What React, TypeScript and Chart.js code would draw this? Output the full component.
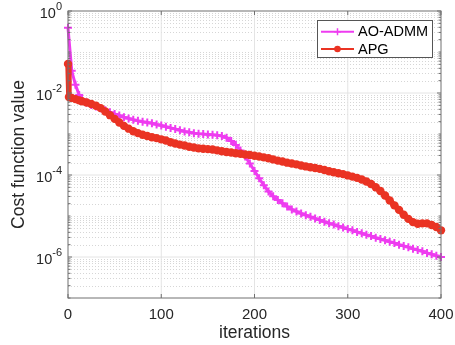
import React, { useEffect, useRef } from "react";
import { Chart, registerables } from "chart.js";

Chart.register(...registerables);

// ---- data ----
const iterations = [
  0, 1, 4, 8, 12, 15, 20, 25, 30, 35, 40, 45, 50, 55, 60, 65, 70, 75, 80, 85, 90, 95,
  100, 105, 110, 115, 120, 125, 130, 135, 140, 145, 150, 155, 160, 165, 170, 175, 180,
  185, 190, 195, 200, 205, 210, 215, 220, 225, 230, 235, 240, 245, 250, 255, 260, 265,
  270, 275, 280, 285, 290, 295, 300, 305, 310, 315, 320, 325, 330, 335, 340, 345, 350,
  355, 360, 365, 370, 375, 380, 385, 390, 395, 400,
];

const aoAdmm = [
  3.89e-1, null, 3.47e-2, 1.58e-2, 8.91e-3,
  7.08e-3, 5.89e-3, 5.13e-3, 4.68e-3, 4.27e-3, 3.8e-3, 3.39e-3, 3.09e-3, 2.82e-3, 2.57e-3,
  2.4e-3, 2.24e-3, 2.09e-3, 2.0e-3, 1.91e-3, 1.82e-3, 1.7e-3, 1.62e-3, 1.51e-3, 1.41e-3,
  1.32e-3, 1.23e-3, 1.15e-3, 1.1e-3, 1.05e-3, 1.02e-3, 1.0e-3, 9.77e-4, 9.55e-4, 9.33e-4,
  8.91e-4, 8.13e-4, 6.76e-4, 5.37e-4, 3.98e-4, 2.82e-4, 1.91e-4, 1.26e-4, 8.32e-5, 5.62e-5,
  3.98e-5, 3.02e-5, 2.45e-5, 2.04e-5, 1.7e-5, 1.45e-5, 1.29e-5, 1.15e-5, 1.05e-5, 9.55e-6,
  8.71e-6, 7.94e-6, 7.24e-6, 6.61e-6, 6.17e-6, 5.62e-6, 5.25e-6, 4.79e-6, 4.47e-6, 4.07e-6,
  3.8e-6, 3.47e-6, 3.24e-6, 2.95e-6, 2.75e-6, 2.57e-6, 2.34e-6, 2.19e-6, 2.0e-6, 1.86e-6,
  1.74e-6, 1.58e-6, 1.48e-6, 1.38e-6, 1.26e-6, 1.17e-6, 1.07e-6, 1.0e-6,
];

const apg = [
  5.13e-2, 7.94e-3, 7.59e-3, 7.08e-3, 6.61e-3,
  6.31e-3, 5.89e-3, 5.37e-3, 4.9e-3, 4.27e-3, 3.55e-3, 2.88e-3, 2.34e-3, 1.91e-3, 1.58e-3,
  1.35e-3, 1.17e-3, 1.05e-3, 9.55e-4, 8.91e-4, 8.32e-4, 7.94e-4, 7.41e-4, 6.92e-4, 6.31e-4,
  5.89e-4, 5.5e-4, 5.25e-4, 4.9e-4, 4.68e-4, 4.47e-4, 4.37e-4, 4.27e-4, 4.17e-4, 3.98e-4,
  3.8e-4, 3.63e-4, 3.55e-4, 3.39e-4, 3.31e-4, 3.16e-4, 3.09e-4, 2.95e-4, 2.82e-4, 2.69e-4,
  2.57e-4, 2.4e-4, 2.24e-4, 2.14e-4, 2.0e-4, 1.91e-4, 1.82e-4, 1.7e-4, 1.62e-4, 1.55e-4,
  1.48e-4, 1.41e-4, 1.32e-4, 1.23e-4, 1.17e-4, 1.1e-4, 1.05e-4, 9.77e-5, 9.12e-5, 8.51e-5,
  7.76e-5, 6.92e-5, 6.03e-5, 5.01e-5, 4.07e-5, 3.16e-5, 2.4e-5, 1.82e-5, 1.41e-5, 1.07e-5,
  8.51e-6, 7.08e-6, 6.46e-6, 6.61e-6, 6.61e-6, 6.03e-6, 5.37e-6, 4.47e-6,
];

const seriesNames = ["AO-ADMM", "APG"];
const xTicks = [0, 100, 200, 300, 400];
const yTickExponents = [0, -2, -4, -6];
const xTitle = "iterations";
const yTitle = "Cost function value";

// ---- styling ----
const FONT = '"Liberation Sans", Arial, Helvetica, sans-serif';
const AXIS = "#262626";
const MAGENTA = "#ee3cf0";
const RED = "#ea3323";

function drawMarker(ctx: CanvasRenderingContext2D, style: string, x: number, y: number, r: number, color: string, lw: number) {
  ctx.save();
  if (style === "cross") {
    ctx.strokeStyle = color;
    ctx.lineWidth = lw;
    ctx.beginPath();
    ctx.moveTo(x - r, y);
    ctx.lineTo(x + r, y);
    ctx.moveTo(x, y - r);
    ctx.lineTo(x, y + r);
    ctx.stroke();
  } else {
    ctx.fillStyle = color;
    ctx.beginPath();
    ctx.arc(x, y, r, 0, Math.PI * 2);
    ctx.fill();
  }
  ctx.restore();
}

const decorPlugin = {
  id: "decor",
  beforeDatasetsDraw(chart: any) {
    const { ctx, chartArea, scales } = chart;
    const { left, right, top, bottom } = chartArea;
    const x = scales.x;
    const y = scales.y;
    ctx.save();
    // minor dotted horizontal grid
    ctx.lineWidth = 1;
    ctx.strokeStyle = "#d6d6d6";
    ctx.setLineDash([1, 2]);
    for (let e = -7; e < 0; e++) {
      for (let m = 1; m <= 9; m++) {
        if (m === 1 && yTickExponents.includes(e)) continue;
        const v = m * Math.pow(10, e);
        const py = Math.round(y.getPixelForValue(v)) + 0.5;
        if (py <= top + 1 || py >= bottom - 1) continue;
        ctx.beginPath();
        ctx.moveTo(left, py);
        ctx.lineTo(right, py);
        ctx.stroke();
      }
    }
    ctx.setLineDash([]);
    ctx.strokeStyle = "#e4e4e4";
    for (const e of yTickExponents) {
      const py = y.getPixelForValue(Math.pow(10, e));
      if (py <= top + 1 || py >= bottom - 1) continue;
      ctx.beginPath();
      ctx.moveTo(left, py);
      ctx.lineTo(right, py);
      ctx.stroke();
    }
    for (const v of xTicks) {
      const px = x.getPixelForValue(v);
      if (px <= left + 1 || px >= right - 1) continue;
      ctx.beginPath();
      ctx.moveTo(px, top);
      ctx.lineTo(px, bottom);
      ctx.stroke();
    }
    ctx.restore();
  },
  afterDatasetsDraw(chart: any) {
    const { ctx, chartArea, scales } = chart;
    const { left, right, top, bottom } = chartArea;
    const x = scales.x;
    const y = scales.y;
    ctx.save();
    // box
    ctx.strokeStyle = "#707070";
    ctx.lineWidth = 1;
    ctx.strokeRect(left, top, right - left, bottom - top);
    // x ticks (inward, top and bottom)
    ctx.beginPath();
    for (const v of xTicks) {
      const px = x.getPixelForValue(v);
      ctx.moveTo(px, bottom);
      ctx.lineTo(px, bottom - 4);
      ctx.moveTo(px, top);
      ctx.lineTo(px, top + 4);
    }
    // y ticks (inward, left and right)
    for (let e = -7; e <= 0; e++) {
      for (let m = 1; m <= 9; m++) {
        const v = m * Math.pow(10, e);
        if (v > 1.0000001) continue;
        const py = y.getPixelForValue(v);
        const len = m === 1 && yTickExponents.includes(e) ? 4 : 2.5;
        ctx.moveTo(left, py);
        ctx.lineTo(left + len, py);
        ctx.moveTo(right, py);
        ctx.lineTo(right - len, py);
      }
    }
    ctx.stroke();
    // x tick labels
    ctx.fillStyle = AXIS;
    ctx.textAlign = "center";
    ctx.textBaseline = "middle";
    ctx.font = `15px ${FONT}`;
    for (const v of xTicks) {
      ctx.fillText(String(v), x.getPixelForValue(v), 315);
    }
    // y tick labels: 10^e
    ctx.textAlign = "right";
    ctx.textBaseline = "middle";
    for (const e of yTickExponents) {
      const py = y.getPixelForValue(Math.pow(10, e));
      const expStr = e === 0 ? "0" : "-" + Math.abs(e);
      ctx.font = `11px ${FONT}`;
      const ew = ctx.measureText(expStr).width;
      ctx.fillText(expStr, left - 6, py - 4);
      ctx.font = `14.5px ${FONT}`;
      ctx.fillText("10", left - 6 - ew, py + 3);
    }
    // legend
    const bx = 317, by = 20, bw = 115, bh = 37;
    ctx.fillStyle = "#ffffff";
    ctx.fillRect(bx, by, bw, bh);
    ctx.strokeStyle = "#555555";
    ctx.lineWidth = 1;
    ctx.strokeRect(bx + 0.5, by + 0.5, bw, bh);
    const rows = [31.7, 49];
    chart.data.datasets.forEach((ds: any, i: number) => {
      const ry = rows[i];
      ctx.strokeStyle = ds.borderColor;
      ctx.lineWidth = 2;
      ctx.beginPath();
      ctx.moveTo(321, ry);
      ctx.lineTo(354, ry);
      ctx.stroke();
      drawMarker(ctx, ds.pointStyle, 337.5, ry, ds.pointStyle === "cross" ? 3.5 : 3.3, ds.borderColor, 1.5);
      ctx.fillStyle = "#000000";
      ctx.textAlign = "left";
      ctx.textBaseline = "middle";
      ctx.font = `14.5px ${FONT}`;
      ctx.fillText(ds.label, 358, ry + 0.5);
    });
    ctx.restore();
  },
};

export default function App() {
  const ref = useRef<HTMLCanvasElement | null>(null);

  useEffect(() => {
    if (!ref.current) return;
    const chart = new Chart(ref.current, {
      type: "line",
      data: {
        datasets: [
          {
            label: seriesNames[0],
            data: iterations.map((it, i) => ({ x: it, y: aoAdmm[i] })),
            borderColor: MAGENTA,
            backgroundColor: MAGENTA,
            borderWidth: 3,
            pointStyle: "cross",
            pointRadius: 4,
            pointBorderWidth: 2,
            pointBorderColor: MAGENTA,
            spanGaps: true,
            clip: false,
            order: 1,
          } as any,
          {
            label: seriesNames[1],
            data: iterations.map((it, i) => ({ x: it, y: apg[i] })),
            borderColor: RED,
            backgroundColor: RED,
            borderWidth: 5.5,
            pointStyle: "circle",
            pointRadius: 4.2,
            pointBorderWidth: 0,
            pointBackgroundColor: RED,
            clip: false,
            order: 0,
          } as any,
        ],
      },
      options: {
        responsive: false,
        animation: false,
        events: [],
        layout: { padding: { left: 0, top: 11, right: 14, bottom: 0 } },
        plugins: { legend: { display: false }, tooltip: { enabled: false } },
        scales: {
          x: {
            type: "linear",
            min: 0,
            max: 400,
            afterBuildTicks: (s: any) => {
              s.ticks = xTicks.map((v) => ({ value: v }));
            },
            afterFit: (s: any) => {
              s.height = 47;
            },
            grid: { display: false, drawTicks: false },
            border: { display: false },
            ticks: { display: false },
            title: {
              display: true,
              text: xTitle,
              color: AXIS,
              font: { size: 17.5, family: FONT },
              padding: { top: 0, bottom: 1.5 },
            },
          },
          y: {
            type: "logarithmic",
            min: 1e-7,
            max: 1,
            afterFit: (s: any) => {
              s.width = 68;
            },
            grid: { display: false, drawTicks: false },
            border: { display: false },
            ticks: { display: false },
            title: {
              display: true,
              text: yTitle,
              color: AXIS,
              font: { size: 17.5, family: FONT },
              padding: { top: 8.5, bottom: 0 },
            },
          },
        },
      } as any,
      plugins: [decorPlugin],
    });
    return () => chart.destroy();
  }, []);

  return (
    <div style={{ position: "absolute", left: 0, top: 0, width: 455, height: 345, background: "#ffffff" }}>
      <canvas ref={ref} width={455} height={345} style={{ display: "block", width: 455, height: 345 }} />
    </div>
  );
}
